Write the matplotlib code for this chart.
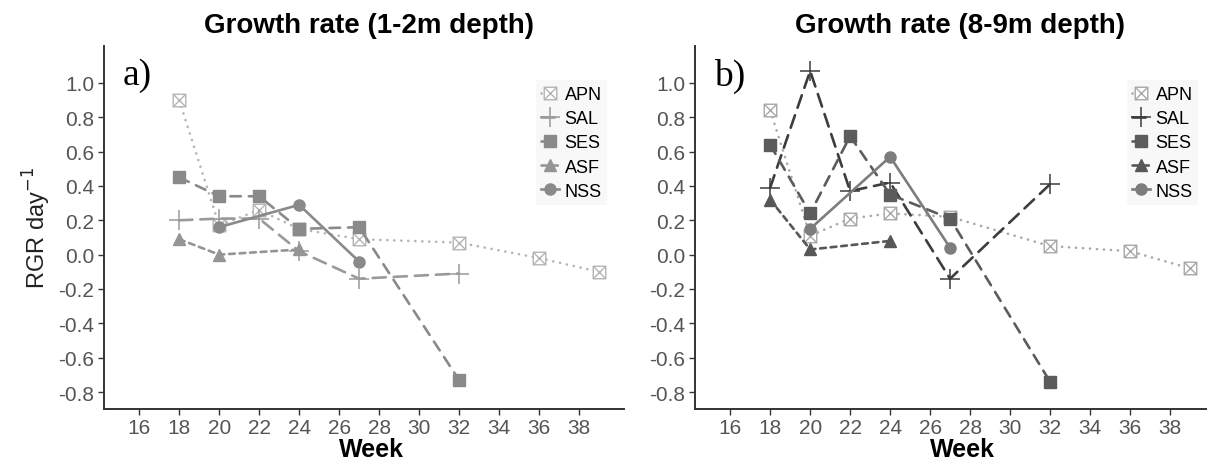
import matplotlib
matplotlib.use('Agg')
import matplotlib.pyplot as plt
from matplotlib.path import Path

plt.rcParams['font.family'] = ['Liberation Sans', 'DejaVu Sans']

# 1. Data (RGR day^-1 per week)
species = ['APN', 'SAL', 'SES', 'ASF', 'NSS']
weeks = {
    'APN': [18, 20, 22, 24, 27, 32, 36, 39],
    'SAL': [18, 20, 22, 24, 27, 32],
    'SES': [18, 20, 22, 24, 27, 32],
    'ASF': [18, 20, 24],
    'NSS': [20, 24, 27],
}

# shallow (1-2m)
apn_a = [0.90, 0.17, 0.26, 0.15, 0.09, 0.07, -0.02, -0.10]
sal_a = [0.20, 0.21, 0.21, 0.02, -0.14, -0.11]
ses_a = [0.45, 0.34, 0.34, 0.15, 0.16, -0.73]
asf_a = [0.09, 0.00, 0.03]
nss_a = [0.16, 0.29, -0.04]

# deep (8-9m)
apn_b = [0.84, 0.11, 0.21, 0.24, 0.22, 0.05, 0.02, -0.08]
sal_b = [0.39, 1.07, 0.37, 0.42, -0.14, 0.41]
ses_b = [0.64, 0.24, 0.69, 0.35, 0.21, -0.74]
asf_b = [0.32, 0.03, 0.08]
nss_b = [0.15, 0.57, 0.04]

xticks = [16, 18, 20, 22, 24, 26, 28, 30, 32, 34, 36, 38]
yticks = [-0.8, -0.6, -0.4, -0.2, 0.0, 0.2, 0.4, 0.6, 0.8, 1.0]
ytick_labels = ['-0.8', '-0.6', '-0.4', '-0.2', '0.0', '0.2', '0.4', '0.6', '0.8', '1.0']

# 2. Marker for APN: open square with a cross inside
box_x = Path([(-1, -1), (1, -1), (1, 1), (-1, 1), (-1, -1),
              (-1, -1), (1, 1), (-1, 1), (1, -1)],
             [Path.MOVETO, Path.LINETO, Path.LINETO, Path.LINETO, Path.CLOSEPOLY,
              Path.MOVETO, Path.LINETO, Path.MOVETO, Path.LINETO])

styles = {
    'APN': dict(marker=box_x, ls=(0, (0.05, 2.6)), ms=9, mfc='white', mew=1.0),
    'SAL': dict(marker='+', ls=(0, (5, 3)), ms=14, mew=1.1),
    'SES': dict(marker='s', ls=(0, (4, 3)), ms=8),
    'ASF': dict(marker='^', ls=(0, (2.2, 1.8)), ms=9),
    'NSS': dict(marker='o', ls='-', ms=8),
}
colors_a = {'APN': '#b5b5b5', 'SAL': '#9a9a9a', 'SES': '#8a8a8a', 'ASF': '#959595', 'NSS': '#8a8a8a'}
colors_b = {'APN': '#a8a8a8', 'SAL': '#3d3d3d', 'SES': '#5c5c5c', 'ASF': '#575757', 'NSS': '#7d7d7d'}

fig = plt.figure(figsize=(12.07, 4.64), dpi=100)
W, H = 1207, 464
ax_a = fig.add_axes([104 / W, (H - 409.5) / H, 520 / W, 362.5 / H])
ax_b = fig.add_axes([695 / W, (H - 409.5) / H, 520 / W, 362.5 / H])

# axes, values, colours, title, panel tag, tag x (px), title x (px)
panels = [
    (ax_a, [apn_a, sal_a, ses_a, asf_a, nss_a], colors_a, 'Growth rate (1-2m depth)', 'a)', 123, 369),
    (ax_b, [apn_b, sal_b, ses_b, asf_b, nss_b], colors_b, 'Growth rate (8-9m depth)', 'b)', 714, 960),
]

# 3. Draw both panels
for ax, series, cols, title, tag, tag_x, title_x in panels:
    for name, vals in zip(species, series):
        st = styles[name]
        ax.plot(weeks[name], vals, color=cols[name], lw=1.9, ls=st['ls'],
                marker=st['marker'], ms=st['ms'], mec=cols[name],
                mfc=st.get('mfc', cols[name]), mew=st.get('mew', 1.0),
                dash_capstyle='round', label=name)

    ax.set_xlim(14.24, 40.25)
    ax.set_ylim(-0.896, 1.215)
    ax.set_xticks(xticks)
    ax.set_yticks(yticks)
    ax.set_yticklabels(ytick_labels)
    for s in ['top', 'right']:
        ax.spines[s].set_visible(False)
    for s in ['left', 'bottom']:
        ax.spines[s].set_linewidth(1.4)
        ax.spines[s].set_color('#333333')
    ax.tick_params(direction='out', length=4, width=1, color='#333333',
                   labelcolor='#555555', labelsize=15, pad=3)
    ax.set_xlabel('Week', fontsize=18, fontweight='bold')
    ax.xaxis.set_label_coords(0.515, -0.08)

    leg = ax.legend(loc='upper left', bbox_to_anchor=(0.83, 0.905), fontsize=13,
                    frameon=True, fancybox=False, handlelength=1.0, handletextpad=0.3,
                    labelspacing=0.4, borderpad=0.3, borderaxespad=0)
    leg.get_frame().set_facecolor('#f7f7f7')
    leg.get_frame().set_edgecolor('none')

    fig.text(title_x / W, 1 - 26 / H, title, fontsize=20, fontweight='bold',
             ha='center', va='center')
    fig.text(tag_x / W, 1 - 76 / H, tag, fontsize=27, family='Liberation Serif',
             ha='left', va='center')

ax_a.set_ylabel('RGR day$^{-1}$', fontsize=17, color='#222222', labelpad=4)

plt.savefig('out.png', dpi=100)
